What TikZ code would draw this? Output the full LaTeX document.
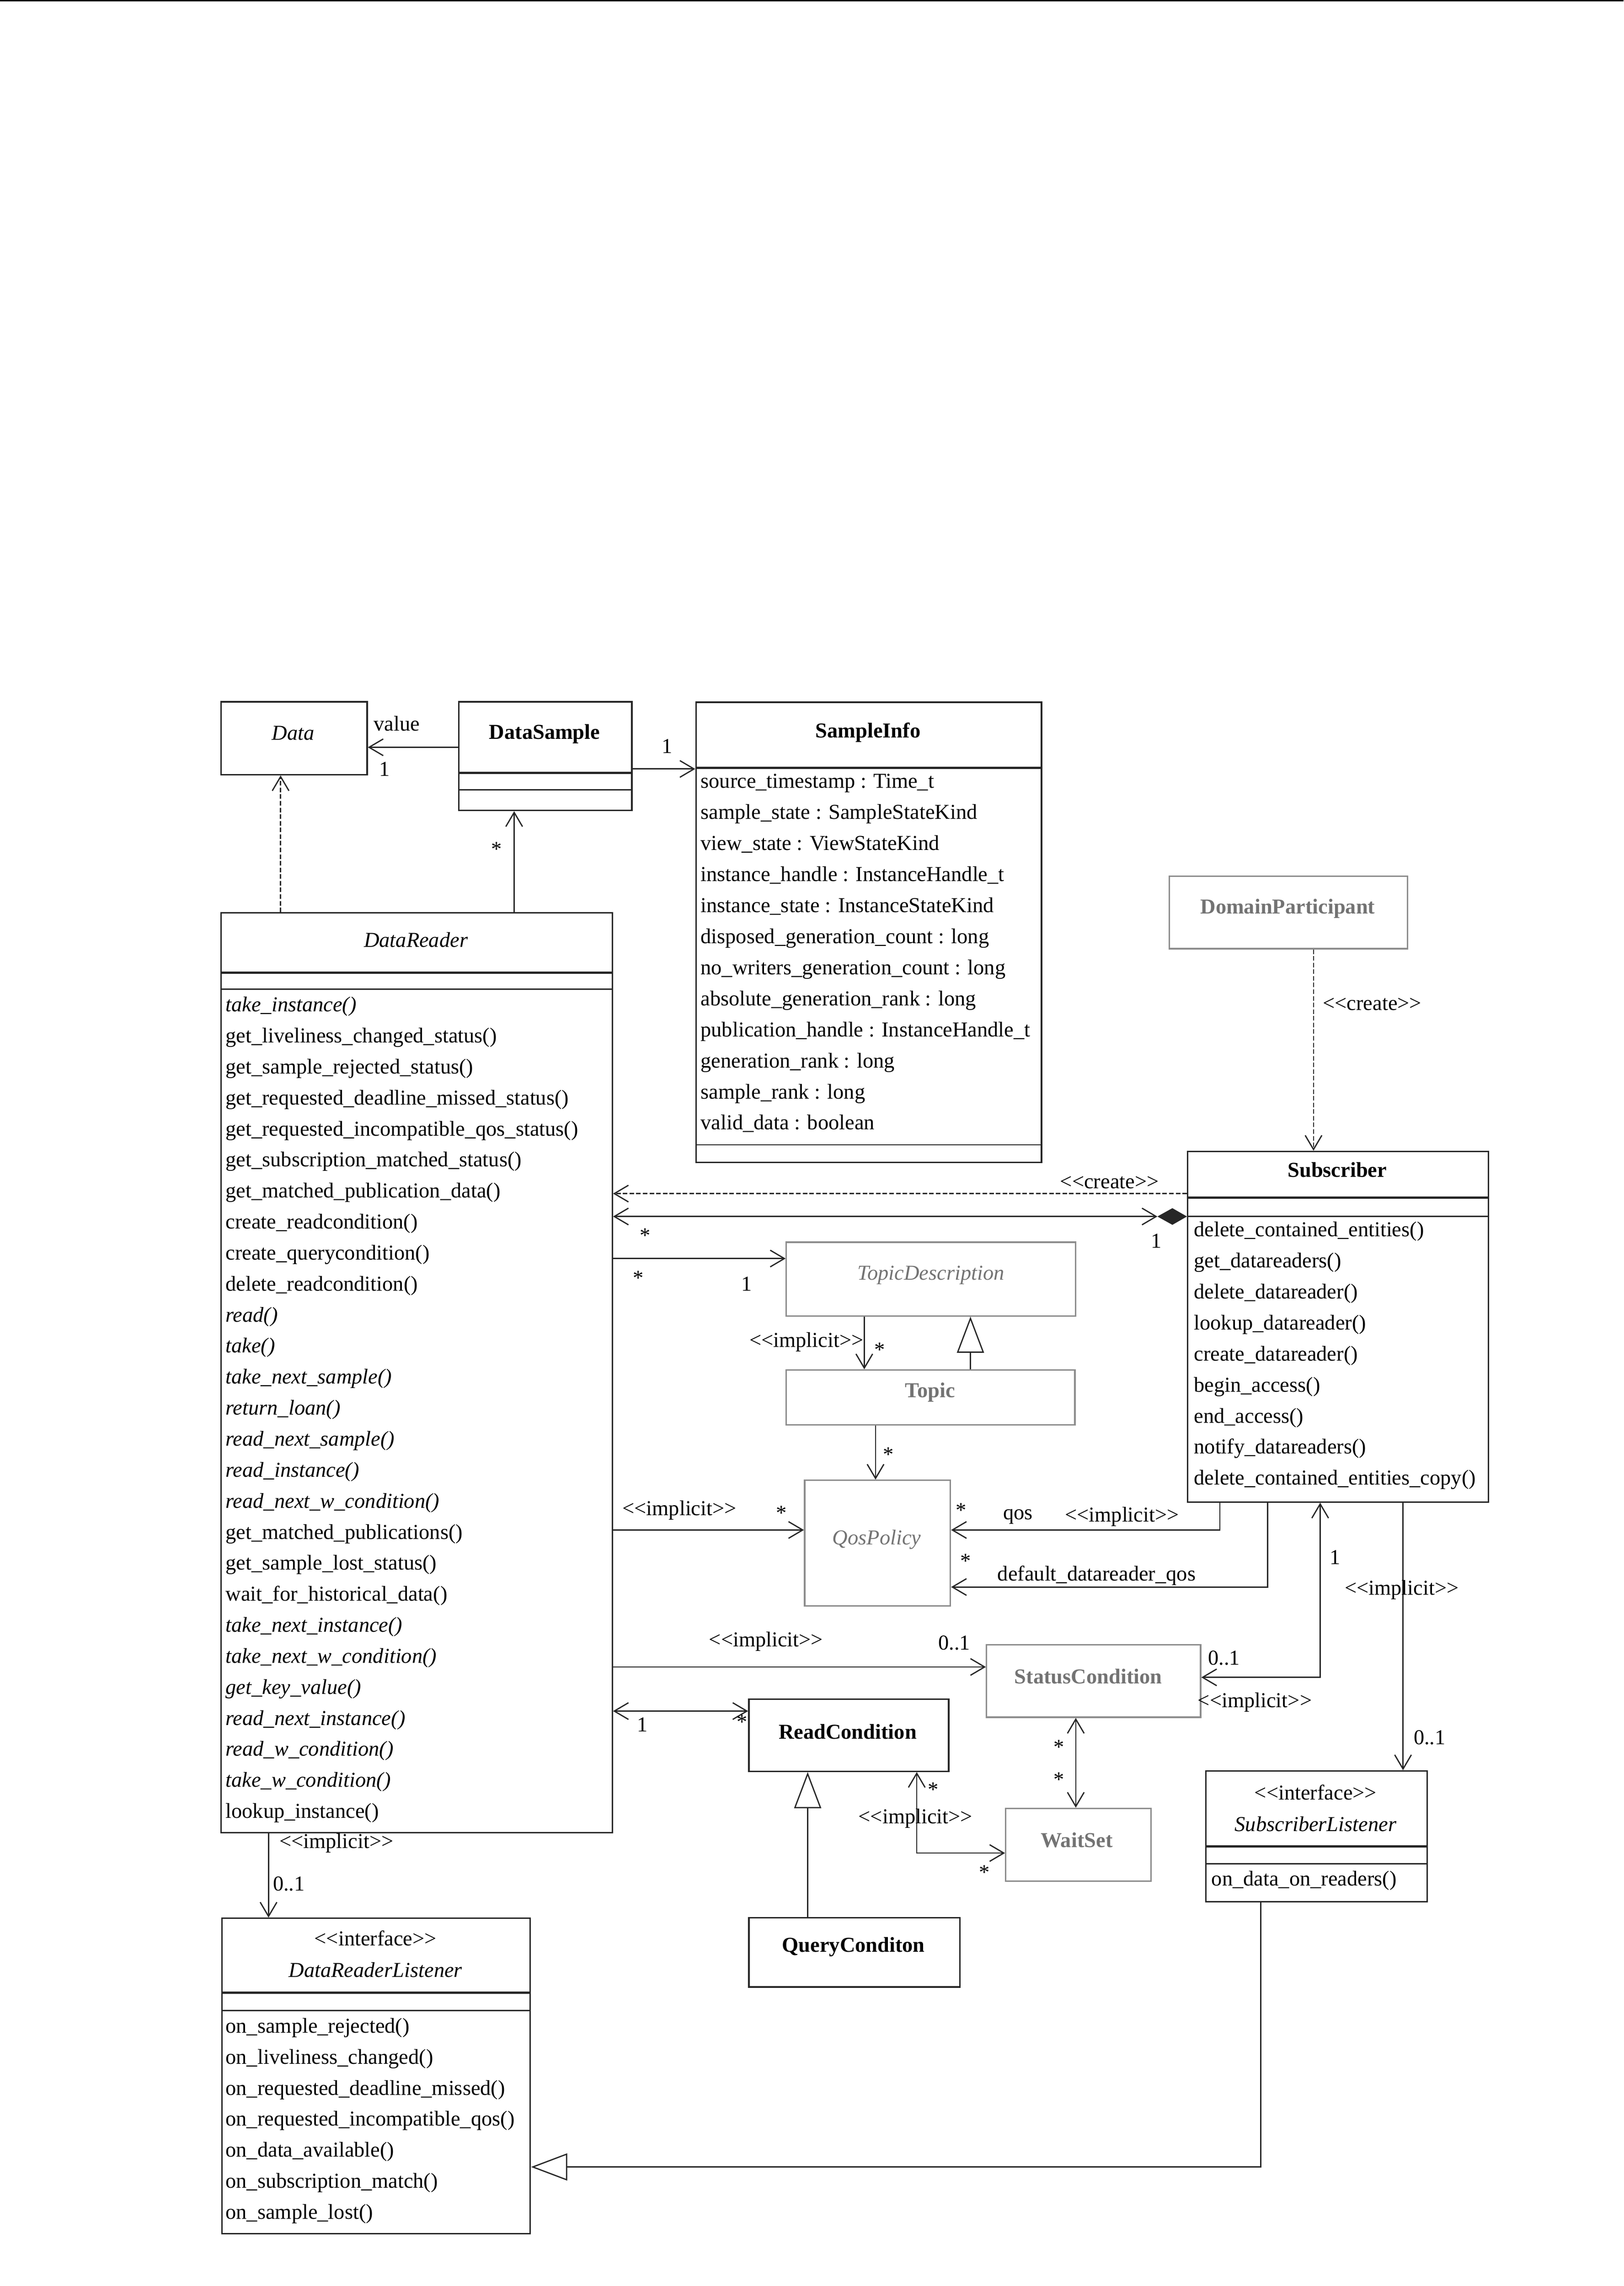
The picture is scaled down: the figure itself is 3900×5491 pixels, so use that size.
\documentclass[tikz,border=0pt]{standalone}
\usepackage{fontspec}
\setmainfont{Liberation Serif}[Ligatures=TeXOff]
\usetikzlibrary{arrows.meta,calc}
\newcommand\ff{\fontsize{10.2}{12}\selectfont}
\tikzset{
  >={Straight Barb[length=6.8pt,width=8pt]},
  cls/.style={draw=black!85,line width=0.7pt,inner sep=0pt,anchor=north west},
  gcls/.style={cls,draw=black!45},
  conn/.style={draw=black!85,line width=0.6pt},
  dsh/.style={dash pattern=on 2.2pt off 1pt},
  gen/.style={-{Triangle[open,length=17.4pt,width=13pt,fill=white]}},
  lbl/.style={inner sep=0pt},
  row/.style={inner sep=0pt,anchor=base west},
  ttl/.style={inner sep=0pt},
  gtxt/.style={text=black!55},
  sepa/.style={draw=black!85,line width=1.1pt},
  sepb/.style={draw=black!85,line width=0.6pt},
}
\begin{document}
\begin{tikzpicture}[x=0.2pt,y=-0.2pt,font=\ff]
\useasboundingbox (0,0) rectangle (3900,5491);
\fill[white] (0,0) rectangle (3900,5491);
\draw[line width=0.6pt] (0,1.5) -- (3900,1.5);

% ---------- classes ----------
\node[cls,minimum width=70.2pt,minimum height=35pt] (dat) at (529,1684) {};
\node[ttl] (dat-t) at (704,1761) {\textit{Data}};

\node[cls,minimum width=83.2pt,minimum height=52.2pt] (ds) at (1100,1684) {};
\node[ttl] (ds-t) at (1308,1763) {\textbf{DataSample}};
\draw[sepa] ($(ds.north west)+(0,173)$) -- ($(ds.north east)+(0,173)$);
\draw[sepb] ($(ds.north west)+(0,213)$) -- ($(ds.north east)+(0,213)$);

\node[cls,minimum width=166pt,minimum height=221pt] (si) at (1670,1685) {};
\node[ttl] (si-t) at (2085,1759) {\textbf{SampleInfo}};
\draw[sepa] ($(si.north west)+(0,159)$) -- ($(si.north east)+(0,159)$);
\draw[sepb] ($(si.north west)+(0,1065)$) -- ($(si.north east)+(0,1065)$);
\foreach \t [count=\i from 0] in {source\_timestamp : Time\_t,sample\_state : SampleStateKind,view\_state : ViewStateKind,instance\_handle : InstanceHandle\_t,instance\_state : InstanceStateKind,disposed\_generation\_count : long,no\_writers\_generation\_count : long,absolute\_generation\_rank : long,publication\_handle : InstanceHandle\_t,generation\_rank : long,sample\_rank : long,valid\_data : boolean}
  \node[row] (si-r\i) at (1682,{1893+74.6*\i}) {\t};

\node[cls,minimum width=188pt,minimum height=441.8pt] (dr) at (529,2191) {};
\node[ttl] (dr-t) at (999,2258) {\textit{DataReader}};
\draw[sepa] ($(dr.north west)+(0,145)$) -- ($(dr.north east)+(0,145)$);
\draw[sepb] ($(dr.north west)+(0,185)$) -- ($(dr.north east)+(0,185)$);
\foreach \t [count=\i from 0] in {\textit{take\_instance()},get\_liveliness\_changed\_status(),get\_sample\_rejected\_status(),get\_requested\_deadline\_missed\_status(),get\_requested\_incompatible\_qos\_status(),get\_subscription\_matched\_status(),get\_matched\_publication\_data(),create\_readcondition(),create\_querycondition(),delete\_readcondition(),\textit{read()},\textit{take()},\textit{take\_next\_sample()},\textit{return\_loan()},\textit{read\_next\_sample()},\textit{read\_instance()},\textit{read\_next\_w\_condition()},get\_matched\_publications(),get\_sample\_lost\_status(),wait\_for\_historical\_data(),\textit{take\_next\_instance()},\textit{take\_next\_w\_condition()},\textit{get\_key\_value()},\textit{read\_next\_instance()},\textit{read\_w\_condition()},\textit{take\_w\_condition()},lookup\_instance()}
  \node[row] (dr-r\i) at (541,{2430+74.5*\i}) {\t};

\node[gcls,minimum width=114.4pt,minimum height=34.8pt] (dp) at (2807,2103) {};
\node[ttl,gtxt] (dp-t) at (3093,2183) {\textbf{DomainParticipant}};

\node[cls,minimum width=144.4pt,minimum height=168.4pt] (sub) at (2851,2764) {};
\node[ttl] (sub-t) at (3212,2810) {\textbf{Subscriber}};
\draw[sepa] ($(sub.north west)+(0,113)$) -- ($(sub.north east)+(0,113)$);
\draw[sepb] ($(sub.north west)+(0,158)$) -- ($(sub.north east)+(0,158)$);
\foreach \t [count=\i from 0] in {delete\_contained\_entities(),get\_datareaders(),delete\_datareader(),lookup\_datareader(),create\_datareader(),begin\_access(),end\_access(),notify\_datareaders(),delete\_contained\_entities\_copy()}
  \node[row] (sub-r\i) at (2867,{2970+74.6*\i}) {\t};

\node[gcls,minimum width=139pt,minimum height=35.4pt] (td) at (1887,2982) {};
\node[ttl,gtxt] (td-t) at (2236,3063) {\textit{TopicDescription}};

\node[gcls,minimum width=138.6pt,minimum height=26.4pt] (tp) at (1887,3289) {};
\node[ttl,gtxt] (tp-t) at (2234,3344) {\textbf{Topic}};

\node[gcls,minimum width=70pt,minimum height=60.4pt] (qp) at (1931,3554) {};
\node[ttl,gtxt] (qp-t) at (2106,3698) {\textit{QosPolicy}};

\node[gcls,minimum width=102.8pt,minimum height=34.8pt] (sc) at (2368,3949) {};
\node[ttl,gtxt] (sc-t) at (2614,4027) {\textbf{StatusCondition}};

\node[cls,minimum width=96pt,minimum height=34.6pt] (rc) at (1797,4080) {};
\node[ttl] (rc-t) at (2036,4159) {\textbf{ReadCondition}};

\node[gcls,minimum width=69.8pt,minimum height=35pt] (ws) at (2414,4342) {};
\node[ttl,gtxt] (ws-t) at (2586,4420) {\textbf{WaitSet}};

\node[cls,minimum width=101.4pt,minimum height=33.2pt] (qc) at (1797,4605) {};
\node[ttl] (qc-t) at (2050,4677) {\textbf{QueryConditon}};

\node[cls,minimum width=106.2pt,minimum height=62.8pt] (sl) at (2895,4252) {};
\node[ttl] (sl-s) at (3160,4305) {<<interface>>};
\node[ttl] (sl-t) at (3160,4381) {\textit{SubscriberListener}};
\draw[sepa] ($(sl.north west)+(0,183)$) -- ($(sl.north east)+(0,183)$);
\draw[sepb] ($(sl.north west)+(0,225)$) -- ($(sl.north east)+(0,225)$);
\node[row] (sl-r0) at (2909,4530) {on\_data\_on\_readers()};

\node[cls,minimum width=148.2pt,minimum height=151.4pt] (drl) at (531,4606) {};
\node[ttl] (drl-s) at (902,4656) {<<interface>>};
\node[ttl] (drl-t) at (902,4732) {\textit{DataReaderListener}};
\draw[sepa] ($(drl.north west)+(0,180)$) -- ($(drl.north east)+(0,180)$);
\draw[sepb] ($(drl.north west)+(0,223)$) -- ($(drl.north east)+(0,223)$);
\foreach \t [count=\i from 0] in {on\_sample\_rejected(),on\_liveliness\_changed(),on\_requested\_deadline\_missed(),on\_requested\_incompatible\_qos(),on\_data\_available(),on\_subscription\_match(),on\_sample\_lost()}
  \node[row] (drl-r\i) at (541,{4883+74.5*\i}) {\t};

% ---------- connectors ----------
% DataSample -> Data
\draw[conn,->] ($(ds.north west)+(0,111)$) -- ($(dat.north east)+(0,111)$);
\node[lbl] at (953,1738) {value};
\node[lbl] at (924,1847) {1};
% DataSample -> SampleInfo
\draw[conn,->] ($(ds.north east)+(0,163)$) -- ($(si.north west)+(0,162)$);
\node[lbl] at (1602,1792) {1};
% DataReader -> Data (dashed)
\draw[conn,dsh,->] ($(dr.north west)+(145,0)$) -- ($(dat.south west)+(145,0)$);
% DataReader -> DataSample
\draw[conn,->] ($(dr.north west)+(706,0)$) -- ($(ds.south west)+(135,0)$);
\node[lbl] at (1193,2040) {*};
% Subscriber -> DataReader create
\draw[conn,dsh,->] ($(sub.north west)+(0,103)$) -- ($(dr.north east)+(0,676)$);
\node[lbl] at (2665,2840) {<<create>>};
% composition DataReader - Subscriber
\coordinate (dmL) at ($(sub.north west)+(-71,158)$);
\fill[black!85] ($(sub.north west)+(0,158)$) -- ++(-35,-20) -- ++(-36,20) -- ++(36,20) -- cycle;
\draw[conn,<->] ($(dr.north east)+(0,731)$) -- (dmL);
\node[lbl] at (2777,2981) {1};
% DomainParticipant -> Subscriber create
\draw[conn,dsh,->] ($(dp.south west)+(348,0)$) -- ($(sub.north west)+(304,0)$);
\node[lbl] at (3296,2412) {<<create>>};
% DataReader -> TopicDescription
\draw[conn,->] ($(dr.north east)+(0,832)$) -- ($(td.north west)+(0,41)$);
\node[lbl] at (1550,2968) {*};
\node[lbl] at (1533,3070) {*};
\node[lbl] at (1794,3084) {1};
% TopicDescription -> Topic
\draw[conn,->] ($(td.south west)+(189,0)$) -- ($(tp.north west)+(189,0)$);
\node[lbl] at (1937,3224) {<<implicit>>};
\node[lbl] at (2113,3242) {*};
% Topic generalizes TopicDescription
\draw[conn,gen] ($(tp.north west)+(444,0)$) -- ($(td.south west)+(444,0)$);
% Topic -> QosPolicy
\draw[conn,->] ($(tp.south west)+(216,0)$) -- ($(qp.north west)+(172,0)$);
\node[lbl] at (2134,3494) {*};
% DataReader -> QosPolicy
\draw[conn,->] ($(dr.north east)+(0,1484)$) -- ($(qp.north west)+(0,121)$);
\node[lbl] at (1632,3628) {<<implicit>>};
\node[lbl] at (1877,3634) {*};
% Subscriber -> QosPolicy (qos)
\draw[conn,->] ($(sub.south west)+(79,0)$) |- ($(qp.north east)+(0,121)$);
\node[lbl] at (2308,3628) {*};
\node[lbl] at (2445,3643) {qos};
\node[lbl] at (2695,3643) {<<implicit>>};
% Subscriber -> QosPolicy (default_datareader_qos)
\draw[conn,->] ($(sub.south west)+(194,0)$) |- ($(qp.north east)+(0,258)$);
\node[lbl] at (2319,3750) {*};
\node[lbl] at (2634,3784) {default\_datareader\_qos};
% DataReader -> StatusCondition
\draw[conn,->] ($(dr.north east)+(0,1813)$) -- ($(sc.north west)+(0,55)$);
\node[lbl] at (1840,3943) {<<implicit>>};
\node[lbl] at (2292,3946) {0..1};
% Subscriber <-> StatusCondition
\draw[conn,<->] ($(sc.north east)+(0,80)$) -| ($(sub.south west)+(320,0)$);
\node[lbl] at (3207,3741) {1};
\node[lbl] at (2940,3982) {0..1};
\node[lbl] at (3014,4089) {<<implicit>>};
% Subscriber -> SubscriberListener
\draw[conn,->] ($(sub.south west)+(519,0)$) -- ($(sl.north west)+(475,0)$);
\node[lbl] at (3367,3819) {<<implicit>>};
\node[lbl] at (3434,4174) {0..1};
% DataReader <-> ReadCondition
\draw[conn,<->] ($(dr.north east)+(0,1919)$) -- ($(rc.north west)+(0,30)$);
\node[lbl] at (1543,4142) {1};
\node[lbl] at (1783,4136) {*};
% StatusCondition <-> WaitSet
\draw[conn,<->] ($(sc.south west)+(216,0)$) -- ($(ws.north west)+(170,0)$);
\node[lbl] at (2543,4196) {*};
\node[lbl] at (2543,4274) {*};
% ReadCondition <-> WaitSet
\draw[conn,<->] ($(rc.south west)+(405,0)$) |- ($(ws.north west)+(0,109)$);
\node[lbl] at (2242,4299) {*};
\node[lbl] at (2364,4497) {*};
\node[lbl] at (2199,4368) {<<implicit>>};
% QueryConditon generalizes ReadCondition
\draw[conn,gen] ($(qc.north west)+(143,0)$) -- ($(rc.south west)+(143,0)$);
% DataReader -> DataReaderListener
\draw[conn,->] ($(dr.south west)+(116,0)$) -- ($(drl.north west)+(114,0)$);
\node[lbl] at (808,4427) {<<implicit>>};
\node[lbl] at (694,4525) {0..1};
% SubscriberListener generalizes DataReaderListener
\draw[conn,gen] ($(sl.south west)+(133,0)$) |- ($(drl.north east)+(0,599)$);
\end{tikzpicture}
\end{document}
